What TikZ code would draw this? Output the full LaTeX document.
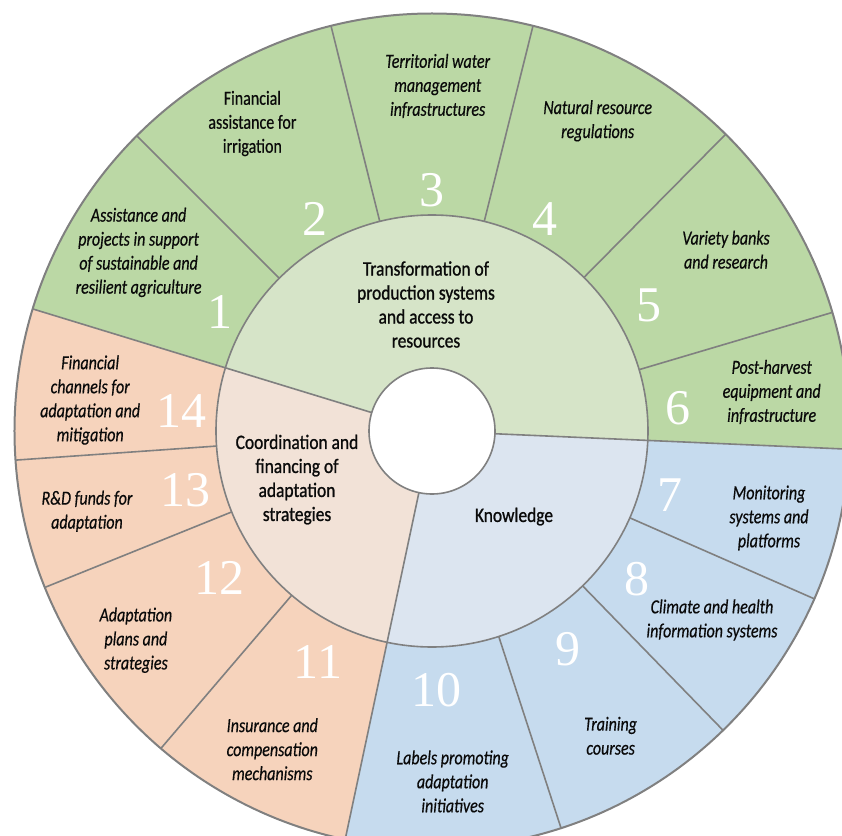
\documentclass[tikz,border=0pt]{standalone}
\usepackage{fontspec}
\setmainfont{Carlito}
\newfontfamily\labfont[FakeStretch=0.8,FakeBold=0.5]{Carlito}
\newfontfamily\hubfont[FakeStretch=0.85,FakeBold=1]{Carlito}
\newfontfamily\numfont{Liberation Serif}
\definecolor{gOut}{RGB}{187,216,165}
\definecolor{gIn}{RGB}{214,228,200}
\definecolor{oOut}{RGB}{246,211,188}
\definecolor{oIn}{RGB}{242,226,215}
\definecolor{bOut}{RGB}{198,219,238}
\definecolor{bIn}{RGB}{220,229,240}
\definecolor{lineGray}{RGB}{128,128,128}
\definecolor{txt}{RGB}{10,10,10}
\newcommand{\annsec}[5]{\fill[#1] (#2:#4) arc[start angle=#2, end angle=#3, radius=#4] -- (#3:#5) arc[start angle=#3, end angle=#2, radius=#5] -- cycle;}
\tikzset{
  lab/.style={font=\labfont\itshape\fontsize{20}{24}\selectfont, align=center, text=txt, inner sep=0pt},
  hub/.style={font=\hubfont\fontsize{20.5}{24}\selectfont, align=center, text=txt, inner sep=0pt},
  num/.style={font=\numfont\fontsize{50}{50}\selectfont, text=white, inner sep=0pt},
  sepline/.style={draw=lineGray, line width=1.6pt},
}
\begin{document}
\begin{tikzpicture}[x=1pt,y=1pt]
\useasboundingbox (-432,-404) rectangle (410,431);
\clip (-432,-404) rectangle (410,431);
\def\Rin{63pt}\def\Rmid{216pt}\def\Rout{417.5pt}
% outer ring
\annsec{gOut}{-2.5}{163}{\Rmid}{\Rout}
\annsec{oOut}{163}{258}{\Rmid}{\Rout}
\annsec{bOut}{258}{357.5}{\Rmid}{\Rout}
% middle ring
\annsec{gIn}{-2.5}{163}{\Rin}{\Rmid}
\annsec{oIn}{163}{258}{\Rin}{\Rmid}
\annsec{bIn}{258}{357.5}{\Rin}{\Rmid}
% main separators
\foreach \a in {-2.5,163,258} \draw[sepline] (\a:\Rin) -- (\a:\Rout);
% sub separators
\foreach \a in {16.5,45.3,76,104,135,184,202,229.5,288,314.2,336.3} \draw[sepline] (\a:\Rmid) -- (\a:\Rout);
% circles
\draw[sepline] (0,0) circle[radius=\Rmid];
\draw[sepline, line width=2pt] (0,0) circle[radius=\Rout];
\filldraw[sepline, fill=white] (0,0) circle[radius=\Rin];
% hub labels
\node[hub] (hubT) at (-6,126.5) {Transformation of\\production systems\\and access to\\resources};
\node[hub] (hubC) at (-135,-48.6) {Coordination and\\financing of\\adaptation\\strategies};
\node[hub] (hubK) at (82,-85.6) {Knowledge};
% outer labels
\node[lab] (l1) at (-293.4,178.6) {Assistance and\\projects in support\\of sustainable and\\resilient agriculture};
\node[lab] (l2) at (-179.6,307.5) {\upshape Financial\\\upshape assistance for\\\upshape irrigation};
\node[lab] (l3) at (5.7,345) {Territorial water\\management\\infrastructures};
\node[lab] (l4) at (165.7,310.2) {Natural resource\\regulations};
\node[lab] (l5) at (294,181.3) {Variety banks\\and research};
\node[lab] (l6) at (339.7,39) {Post-harvest\\equipment and\\infrastructure};
\node[lab] (l7) at (337,-87) {Monitoring\\systems and\\platforms};
\node[lab] (l8) at (280,-189) {Climate and health\\information systems};
\node[lab] (l9) at (178.6,-304.8) {Training\\courses};
\node[lab] (l10) at (20.7,-350.4) {Labels promoting\\adaptation\\initiatives};
\node[lab] (l11) at (-159.7,-318.2) {Insurance and\\compensation\\mechanisms};
\node[lab] (l12) at (-296.1,-209.2) {Adaptation\\plans and\\strategies};
\node[lab] (l13) at (-345,-80.3) {R\&D funds for\\adaptation};
\node[lab] (l14) at (-341.8,31) {Financial\\channels for\\adaptation and\\mitigation};
% numbers
\node[num] (n1) at (-212,119) {1};
\node[num] (n2) at (-116.5,212) {2};
\node[num] (n3) at (0,240.5) {3};
\node[num] (n4) at (113,212) {4};
\node[num] (n5) at (217,125.5) {5};
\node[num] (n6) at (246,22.5) {6};
\node[num] (n7) at (237.5,-64) {7};
\node[num] (n8) at (204.5,-148) {8};
\node[num] (n9) at (136,-218) {9};
\node[num] (n10) at (4.5,-259.5) {10};
\node[num] (n11) at (-114,-231) {11};
\node[num] (n12) at (-212,-146.5) {12};
\node[num] (n13) at (-246,-59) {13};
\node[num] (n14) at (-250.5,20.5) {14};
\end{tikzpicture}
\end{document}
